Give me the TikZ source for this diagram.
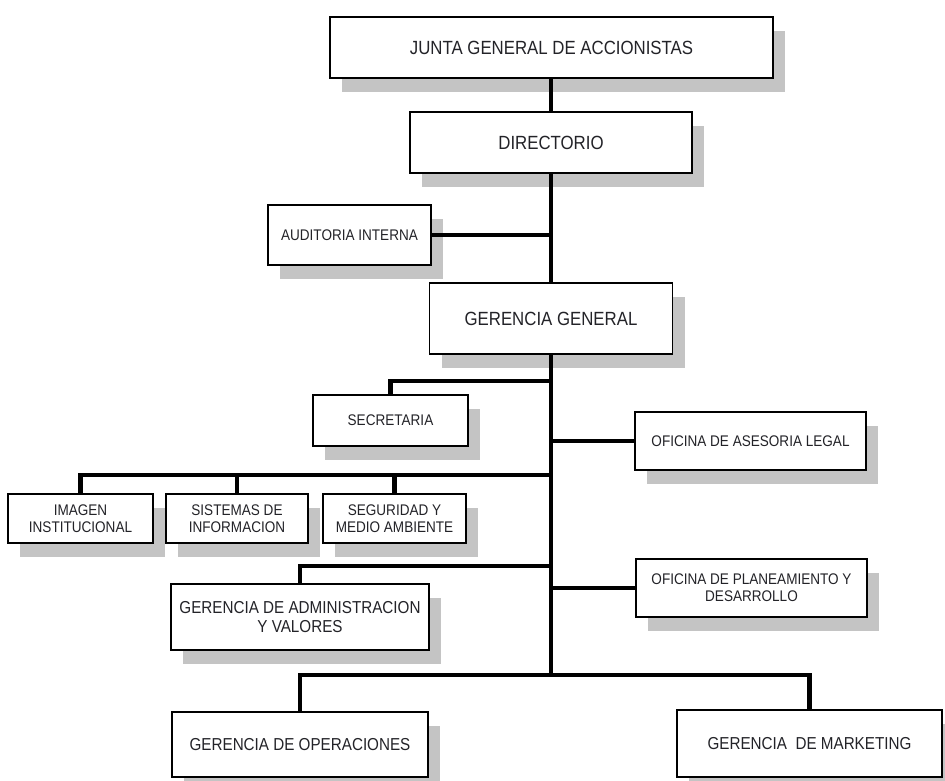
\documentclass[tikz,border=0pt]{standalone}
\usepackage{fontspec}
\setmainfont{Liberation Sans}[FakeStretch=0.88]
\usetikzlibrary{shadows}
\definecolor{shadowgray}{RGB}{196,196,196}
\definecolor{txtcol}{RGB}{35,35,40}
\tikzset{
  orgbox/.style={draw=black, line width=1.3pt, fill=white, inner sep=0pt, align=center,
    text=txtcol,
    general shadow={fill=shadowgray, shadow xshift=12pt, shadow yshift=-13.5pt}},
  bigtxt/.style={font=\fontsize{19.1}{21}\selectfont},
  midtxt/.style={font=\fontsize{17.3}{18.5}\selectfont},
  smalltxt/.style={font=\fontsize{15.4}{17}\selectfont},
  conn/.style={draw=black, line width=4.3pt}
}
\begin{document}
\begin{tikzpicture}[x=1pt, y=-1pt]
\useasboundingbox (0,0) rectangle (945,780);

% boxes
\node[orgbox, bigtxt, minimum width=443pt, minimum height=61pt] (junta) at (551.5,47.5) {JUNTA GENERAL DE ACCIONISTAS};
\node[orgbox, bigtxt, minimum width=282pt, minimum height=61pt] (dir) at (551,142.5) {DIRECTORIO};
\node[orgbox, smalltxt, minimum width=163pt, minimum height=60pt] (aud) at (349.5,235) {AUDITORIA INTERNA};
\node[orgbox, bigtxt, minimum width=243pt, minimum height=71pt] (gg) at (551,318.5) {GERENCIA GENERAL};
\node[orgbox, smalltxt, minimum width=155pt, minimum height=51pt] (sec) at (390.5,420.5) {SECRETARIA};
\node[orgbox, smalltxt, minimum width=231pt, minimum height=58pt] (legal) at (750.5,441) {OFICINA DE ASESORIA LEGAL};
\node[orgbox, smalltxt, minimum width=145pt, minimum height=49pt] (img) at (80.5,518.5) {IMAGEN\\INSTITUCIONAL};
\node[orgbox, smalltxt, minimum width=142pt, minimum height=49pt] (sis) at (237,518.5) {SISTEMAS DE\\INFORMACION};
\node[orgbox, smalltxt, minimum width=143pt, minimum height=49pt] (seg) at (394.5,518.5) {SEGURIDAD Y\\MEDIO AMBIENTE};
\node[orgbox, midtxt, minimum width=258pt, minimum height=66pt] (adm) at (300,617) {GERENCIA DE ADMINISTRACION\\Y VALORES};
\node[orgbox, smalltxt, minimum width=231pt, minimum height=58pt] (plan) at (751.5,588) {OFICINA DE PLANEAMIENTO Y\\DESARROLLO};
\node[orgbox, midtxt, minimum width=256pt, minimum height=65pt] (ops) at (300,744.5) {GERENCIA DE OPERACIONES};
\node[orgbox, midtxt, minimum width=265pt, minimum height=67pt] (mkt) at (809.5,743.5) {GERENCIA\ \ DE MARKETING};

% junctions
\coordinate (secj) at (551,381);
\coordinate (brj) at (551,475);
\coordinate (admj) at (551,566);
\coordinate (botj) at (551,675);

% connectors
\draw[conn] (junta.south -| dir.north) -- (dir.north);
\draw[conn] (dir.south) -- (gg.north);
\draw[conn] (aud.east) -- (aud.east -| dir.south);
\draw[conn] (gg.south) -- (botj);
\draw[conn] (secj) -| (sec.north);
\draw[conn] (legal.west -| secj) -- (legal.west);
\draw[conn] (brj) -| (img.north);
\draw[conn] (sis.north) -- (sis.north |- brj);
\draw[conn] (seg.north) -- (seg.north |- brj);
\draw[conn] (admj) -| (adm.north);
\draw[conn] (plan.west -| admj) -- (plan.west);
\draw[conn] (ops.north) |- (botj) -| (mkt.north);
\end{tikzpicture}
\end{document}
